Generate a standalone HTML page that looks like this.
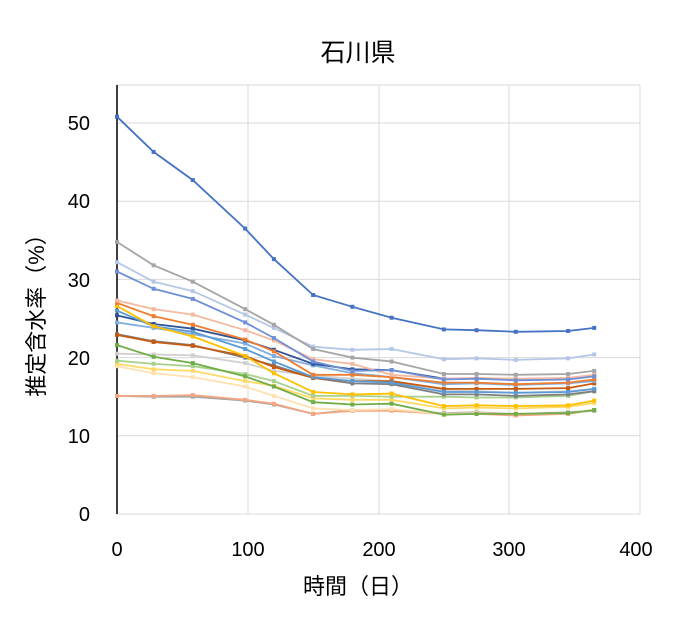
<!DOCTYPE html>
<html><head><meta charset="utf-8"><style>
body{margin:0;background:#fff}
text{font-family:"Liberation Sans","Noto Sans CJK JP",sans-serif;fill:#000}
</style></head><body>
<svg id="s" width="676" height="624" xmlns="http://www.w3.org/2000/svg">
<rect width="676" height="624" fill="#fff"/>
<g stroke="#d9d9d9" stroke-width="1">
<line x1="117" y1="435.8" x2="640" y2="435.8"/><line x1="117" y1="357.6" x2="640" y2="357.6"/>
<line x1="117" y1="279.4" x2="640" y2="279.4"/><line x1="117" y1="201.2" x2="640" y2="201.2"/>
<line x1="117" y1="123" x2="640" y2="123"/><line x1="117" y1="85" x2="640" y2="85"/>
<line x1="248" y1="85" x2="248" y2="514"/><line x1="379" y1="85" x2="379" y2="514"/>
<line x1="509" y1="85" x2="509" y2="514"/><line x1="640" y1="85" x2="640" y2="514"/>
</g>
<line x1="117" y1="514" x2="640" y2="514" stroke="#d9d9d9"/>
<line x1="117" y1="85" x2="117" y2="514" stroke="#000" stroke-width="1.5"/>
<g id="lines" fill="none" stroke-width="1.8"></g>
<text x="358" y="61" font-size="25" text-anchor="middle">石川県</text>
<g font-size="20" text-anchor="end">
<text x="90" y="521">0</text><text x="90" y="443">10</text><text x="90" y="365">20</text>
<text x="90" y="287">30</text><text x="90" y="208">40</text><text x="90" y="130">50</text>
</g>
<g font-size="20" text-anchor="middle">
<text x="117" y="556">0</text><text x="248" y="556">100</text><text x="379" y="556">200</text>
<text x="509" y="556">300</text><text x="636" y="556">400</text>
</g>
<text x="358" y="594" font-size="22" text-anchor="middle">時間（日）</text>
<text transform="translate(44,310) rotate(-90)" font-size="22" text-anchor="middle">推定含水率（%）</text>
</svg>
<script>
var t=[0,28,58,98,120,150,180,210,250,275,305,345,365];
var S=[
["#4472C4",[50.8,46.3,42.7,36.5,32.6,28,26.5,25.1,23.6,23.5,23.3,23.4,23.8]],
["#A5A5A5",[34.8,31.8,29.7,26.2,24.2,21.1,20.0,19.5,17.9,17.9,17.8,17.9,18.3]],
["#B4C7E7",[32.2,29.7,28.5,25.5,23.8,21.4,21.0,21.1,19.8,19.9,19.7,19.9,20.4]],
["#6F8FD6",[31.0,28.8,27.5,24.5,22.5,19.5,18.3,18.4,17.2,17.3,17.1,17.2,17.6]],
["#F4B9A0",[27.3,26.2,25.5,23.5,22.2,19.8,19.2,17.8,17.3,17.4,17.3,17.4,17.8]],
["#ED7D31",[27.0,25.3,24.2,22.3,20.8,17.8,17.8,17.5,16.8,16.8,16.6,16.8,17.2]],
["#FFC000",[26.6,24.0,22.7,20.2,18.0,15.6,15.3,15.4,13.8,13.9,13.8,13.9,14.5]],
["#5B9BD5",[26.0,24.0,23.3,21.1,19.5,17.5,17.0,16.8,15.6,15.6,15.5,15.6,16.0]],
["#2F5597",[25.4,24.3,23.7,22.2,21.0,19.2,18.5,18.4,17.3,17.3,17.2,17.3,17.7]],
["#7FAEE0",[24.5,23.8,23.0,21.8,20.2,19.0,18.0,17.5,16.6,16.7,16.5,16.7,17.0]],
["#C55A11",[22.9,22.0,21.5,20.2,18.8,17.4,17.0,17.0,16.0,16.0,16.0,16.1,16.7]],
["#7F7F7F",[23.0,22.1,21.6,20.0,19.0,17.4,16.7,16.6,15.3,15.3,15.1,15.3,15.7]],
["#70AD47",[21.6,20.1,19.3,17.6,16.3,14.3,14.0,14.1,12.7,12.8,12.8,12.9,13.3]],
["#D0D0D0",[20.5,20.4,20.3,19.3,18.3,17.7,17.3,17.0,15.8,15.7,15.5,15.7,16.0]],
["#A9D18E",[19.6,19.2,18.9,17.9,17.0,15.1,15.1,15.0,15.0,14.9,14.9,15.1,15.7]],
["#FFD966",[19.2,18.5,18.3,17.0,16.4,14.8,14.6,14.6,13.5,13.6,13.5,13.7,14.2]],
["#FFE0B0",[18.9,18.0,17.5,16.3,15.1,13.5,13.3,13.4,12.8,12.9,12.8,12.9,13.3]],
["#F4A582",[15.1,15.1,15.2,14.6,14.1,12.8,13.2,13.2,12.8,12.8,12.6,12.8,13.3]],
["#A5A5A5",[15.1,15.0,15.0,14.5,14.0,12.8,13.3,13.3,12.9,13.0,12.8,13.0,13.2]]
];
var g=document.getElementById("lines"),ns="http://www.w3.org/2000/svg";
S.slice().reverse().forEach(function(s){
 var p=s[1].map(function(v,i){return (117+t[i]*1.3075).toFixed(1)+","+(514-v*7.82).toFixed(1)}).join(" ");
 var l=document.createElementNS(ns,"polyline");l.setAttribute("points",p);l.setAttribute("stroke",s[0]);g.appendChild(l);
 s[1].forEach(function(v,i){var c=document.createElementNS(ns,"rect");var x=117+t[i]*1.3075,y=514-v*7.82;
 c.setAttribute("x",x-2);c.setAttribute("y",y-2);c.setAttribute("width",4);c.setAttribute("height",4);c.setAttribute("fill",s[0]);g.appendChild(c);});
});
</script>
</body></html>
